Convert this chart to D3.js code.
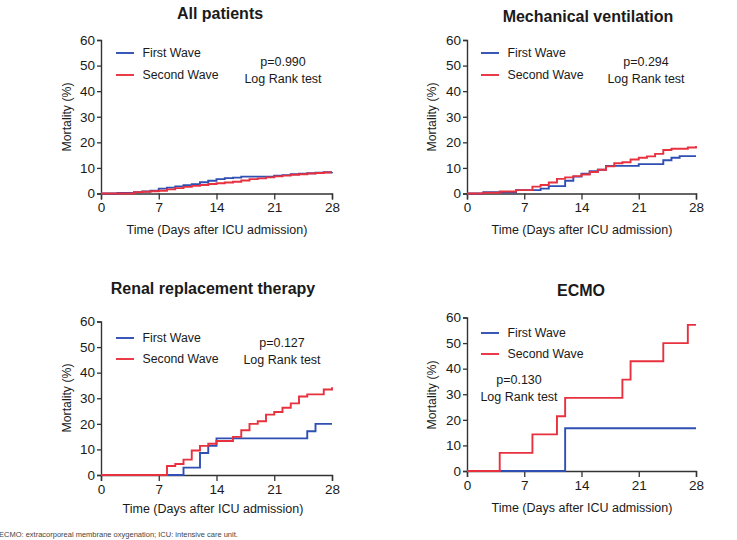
<!DOCTYPE html>
<html><head><meta charset="utf-8">
<script src="https://cdn.jsdelivr.net/npm/d3@7"></script>
<style>
body{margin:0;background:#fff;}
svg{display:block;font-family:"Liberation Sans",Arial,sans-serif;}
</style></head>
<body>
<svg id="c" width="737" height="540"></svg>
<script>
// ---- data ----
const titles = ["All patients", "Mechanical ventilation", "Renal replacement therapy", "ECMO"];
const pValues = ["p=0.990", "p=0.294", "p=0.127", "p=0.130"];
const seriesNames = ["First Wave", "Second Wave"];
const xTicks = [0, 7, 14, 21, 28];
const yTicks = [0, 10, 20, 30, 40, 50, 60];

// All patients
const allFirstDays = [0, 2, 4, 5, 6, 7, 8, 9, 10, 11, 12, 13, 14, 15, 16, 17, 21, 22, 23, 24, 25, 26, 27, 28];
const allFirstVals = [0, 0.2, 0.5, 0.8, 1.1, 1.9, 2.3, 2.8, 3.2, 3.6, 4.4, 5.0, 5.6, 6.0, 6.2, 6.6, 7.0, 7.2, 7.5, 7.7, 7.9, 8.1, 8.3, 8.4];
const allSecondDays = [0, 4, 5, 6, 7, 8, 9, 10, 11, 12, 13, 14, 15, 16, 17, 18, 19, 20, 21, 22, 23, 24, 25, 26, 27, 28];
const allSecondVals = [0, 0.5, 0.7, 0.9, 1.1, 1.6, 2.1, 2.6, 3.0, 3.3, 3.7, 4.0, 4.3, 4.6, 5.1, 5.6, 5.9, 6.3, 6.7, 7.0, 7.3, 7.5, 7.8, 8.0, 8.2, 8.2];

// Mechanical ventilation
const mvFirstDays = [0, 2, 6, 9, 10, 12, 13, 14, 15, 16, 17, 21, 24, 25, 26, 28];
const mvFirstVals = [0, 0.5, 1.3, 1.9, 2.9, 5.0, 6.6, 7.7, 8.7, 9.3, 10.8, 11.5, 13.0, 14.0, 14.6, 14.6];
const mvSecondDays = [0, 2, 4, 6, 8, 9, 10, 11, 12, 13, 14, 15, 16, 17, 18, 19, 20, 21, 22, 23, 24, 25, 27, 28];
const mvSecondVals = [0, 0.3, 0.8, 1.3, 2.7, 3.3, 4.3, 5.7, 6.3, 6.8, 7.4, 8.4, 9.3, 10.6, 11.8, 12.2, 13.3, 14.0, 14.5, 15.5, 17.0, 17.5, 18.0, 18.6];

// Renal replacement therapy
const rrtFirstDays = [0, 10, 12, 13, 14, 25, 26, 28];
const rrtFirstVals = [0, 2.9, 8.6, 11.4, 14.3, 17.1, 20.0, 20.0];
const rrtSecondDays = [0, 8, 9, 10, 11, 12, 13, 14, 16, 17, 18, 19, 20, 21, 22, 23, 24, 25, 27, 28];
const rrtSecondVals = [0, 3.5, 4.3, 6.0, 9.6, 11.4, 12.2, 13.3, 14.9, 17.5, 20.0, 21.0, 23.6, 24.6, 26.3, 28.0, 30.7, 31.5, 33.4, 34.3];

// ECMO
const ecmoFirstDays = [0, 12, 28];
const ecmoFirstVals = [0, 16.7, 16.7];
const ecmoSecondDays = [0, 4, 8, 11, 12, 19, 20, 24, 27, 28];
const ecmoSecondVals = [0, 7.1, 14.3, 21.4, 28.6, 35.7, 42.9, 50.0, 57.1, 57.1];

const panelData = [
  [[allFirstDays, allFirstVals], [allSecondDays, allSecondVals]],
  [[mvFirstDays, mvFirstVals], [mvSecondDays, mvSecondVals]],
  [[rrtFirstDays, rrtFirstVals], [rrtSecondDays, rrtSecondVals]],
  [[ecmoFirstDays, ecmoFirstVals], [ecmoSecondDays, ecmoSecondVals]]
];

// ---- layout ----
const colors = ["#2f4fb3", "#e8313f"];
const layout = [
  {x0: 101, x1: 332, yb: 193.5, yt: 40, title: [220, 18.5], legend: [116, 53, 75], p: [283, 62, 79], ylab: [67, 117], xlab: [217, 230]},
  {x0: 467, x1: 696, yb: 193.5, yt: 40, title: [588, 21.5], legend: [481, 53, 75], p: [646, 62, 79], ylab: [432, 117], xlab: [582, 230]},
  {x0: 101, x1: 332, yb: 475, yt: 321.5, title: [213, 293.5], legend: [116, 338, 359], p: [282, 343, 360], ylab: [67, 398], xlab: [213, 509]},
  {x0: 467, x1: 696, yb: 471, yt: 317.5, title: [581, 295.5], legend: [481, 333, 354], p: [519, 380, 397], ylab: [432, 395], xlab: [582, 508]}
];

const svg = d3.select("#c");
const txt = "#1a1a1a";

layout.forEach((L, i) => {
  const x = d3.scaleLinear().domain([0, 28]).range([L.x0, L.x1]);
  const y = d3.scaleLinear().domain([0, 60]).range([L.yb, L.yt]);
  const g = svg.append("g");

  // axes
  const ax = g.append("g").attr("transform", `translate(0,${L.yb})`)
    .call(d3.axisBottom(x).tickValues(xTicks).tickSize(6).tickPadding(3).tickFormat(d3.format("d")));
  const ay = g.append("g").attr("transform", `translate(${L.x0},0)`)
    .call(d3.axisLeft(y).tickValues(yTicks).tickSize(4).tickPadding(2).tickFormat(d3.format("d")));
  [ax, ay].forEach(a => {
    a.select(".domain").attr("stroke", "#333").attr("stroke-width", 1.4);
    a.selectAll(".tick line").attr("stroke", "#333").attr("stroke-width", 1.3);
    a.selectAll(".tick text").attr("fill", txt).style("font-size", "13.5px").style("font-family", '"Liberation Sans",Arial,sans-serif');
  });

  // curves
  const line = d3.line().x(d => x(d[0])).y(d => y(d[1])).curve(d3.curveStepAfter);
  panelData[i].forEach((s, k) => {
    const pts = s[0].map((d, j) => [d, s[1][j]]);
    g.append("path").datum(pts).attr("d", line)
      .attr("fill", "none").attr("stroke", colors[k]).attr("stroke-width", 1.9);
  });

  // title
  g.append("text").attr("x", L.title[0]).attr("y", L.title[1])
    .attr("text-anchor", "middle").attr("fill", txt)
    .style("font-size", "16px").style("font-weight", "bold").text(titles[i]);

  // legend
  seriesNames.forEach((n, k) => {
    const ly = L.legend[1 + k];
    g.append("line").attr("x1", L.legend[0]).attr("x2", L.legend[0] + 18)
      .attr("y1", ly).attr("y2", ly).attr("stroke", colors[k]).attr("stroke-width", 1.9);
    g.append("text").attr("x", L.legend[0] + 26.5).attr("y", ly).attr("dy", "0.35em")
      .attr("fill", txt).style("font-size", "12.3px").text(n);
  });

  // p-value
  g.append("text").attr("x", L.p[0]).attr("y", L.p[1]).attr("dy", "0.35em")
    .attr("text-anchor", "middle").attr("fill", txt).style("font-size", "12.5px").text(pValues[i]);
  g.append("text").attr("x", L.p[0]).attr("y", L.p[2]).attr("dy", "0.35em")
    .attr("text-anchor", "middle").attr("fill", txt).style("font-size", "12.5px").text("Log Rank test");

  // axis titles
  g.append("text").attr("transform", `translate(${L.ylab[0]},${L.ylab[1]}) rotate(-90)`)
    .attr("text-anchor", "middle").attr("dy", "0.35em").attr("fill", txt)
    .style("font-size", "12.3px").text("Mortality (%)");
  g.append("text").attr("x", L.xlab[0]).attr("y", L.xlab[1]).attr("dy", "0.35em")
    .attr("text-anchor", "middle").attr("fill", txt)
    .style("font-size", "12.5px").text("Time (Days after ICU admission)");
});

svg.append("text").attr("x", -1).attr("y", 534).attr("dy", "0.35em")
  .attr("fill", "#444").style("font-size", "7.5px")
  .text("ECMO: extracorporeal membrane oxygenation; ICU: intensive care unit.");
</script>
</body></html>
